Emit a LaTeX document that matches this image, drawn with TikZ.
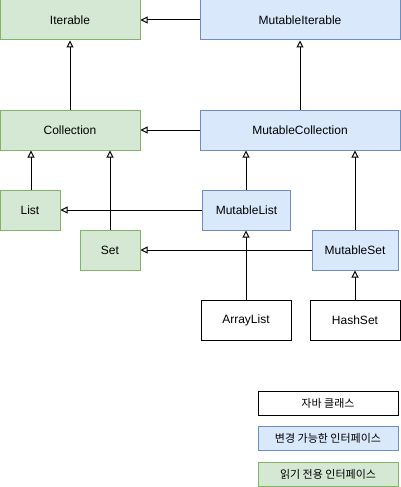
\documentclass[tikz,border=0pt]{standalone}
\usepackage{fontspec}
\setmainfont{Liberation Sans}
\newfontfamily\kofont{Noto Sans CJK KR}
\usetikzlibrary{arrows.meta}
\definecolor{gfill}{HTML}{D5E8D4}
\definecolor{gline}{HTML}{82B366}
\definecolor{bfill}{HTML}{DAE8FC}
\definecolor{bline}{HTML}{6C8EBF}
\tikzset{
  box/.style={rectangle, draw, line width=1pt, inner sep=0pt, font=\fontsize{12}{14}\selectfont},
  ro/.style={box, draw=gline, fill=gfill},
  mu/.style={box, draw=bline, fill=bfill},
  cl/.style={box, draw=black, fill=white},
  inh/.style={-{Triangle[open, length=7pt, width=7pt]}, line width=1pt},
}
\newcommand{\bx}[7]{\node[#1, minimum width=#4pt, minimum height=#5pt] (#2) at (#3) {#6};}
\begin{document}
\begin{tikzpicture}[x=1pt,y=-1pt]
\useasboundingbox (0,0) rectangle (401,487);
\node[ro, minimum width=140pt, minimum height=40pt] (iter) at (70,20) {Iterable};
\node[mu, minimum width=200pt, minimum height=40pt] (miter) at (300,20) {MutableIterable};
\node[ro, minimum width=140pt, minimum height=40pt] (coll) at (70,130) {Collection};
\node[mu, minimum width=200pt, minimum height=40pt] (mcoll) at (300,130) {MutableCollection};
\node[ro, minimum width=60pt, minimum height=40pt] (list) at (30,210) {List};
\node[ro, minimum width=60pt, minimum height=40pt] (set) at (110,250) {Set};
\node[mu, minimum width=88pt, minimum height=40pt] (mlist) at (246.5,210) {MutableList};
\node[mu, minimum width=86pt, minimum height=40pt] (mset) at (355,250) {MutableSet};
\node[cl, minimum width=90pt, minimum height=40pt] (alist) at (246,320) {ArrayList};
\node[cl, minimum width=90pt, minimum height=40pt] (hset) at (355,320) {HashSet};
\node[cl, minimum width=140pt, minimum height=24pt, font=\kofont\fontsize{11}{13}\selectfont] (leg1) at (328,403) {자바 클래스};
\node[mu, minimum width=140pt, minimum height=24pt, font=\kofont\fontsize{11}{13}\selectfont] (leg2) at (328,438) {변경 가능한 인터페이스};
\node[ro, minimum width=140pt, minimum height=24pt, font=\kofont\fontsize{11}{13}\selectfont] (leg3) at (328,474) {읽기 전용 인터페이스};
\draw[inh] (miter) -- (iter);
\draw[inh] (coll) -- (iter);
\draw[inh] (mcoll) -- (miter);
\draw[inh] (mcoll) -- (coll);
\draw[inh] (list.north -| 31,0) -- (coll.south -| 31,0);
\draw[inh] (set.north) -- (coll.south -| set.north);
\draw[inh] (mlist.north -| 246,0) -- (mcoll.south -| 246,0);
\draw[inh] (mset.north) -- (mcoll.south -| mset.north);
\draw[inh] (mlist) -- (list);
\draw[inh] (mset) -- (set);
\draw[inh] (alist) -- (mlist.south -| alist.north);
\draw[inh] (hset) -- (mset);
\end{tikzpicture}
\end{document}
